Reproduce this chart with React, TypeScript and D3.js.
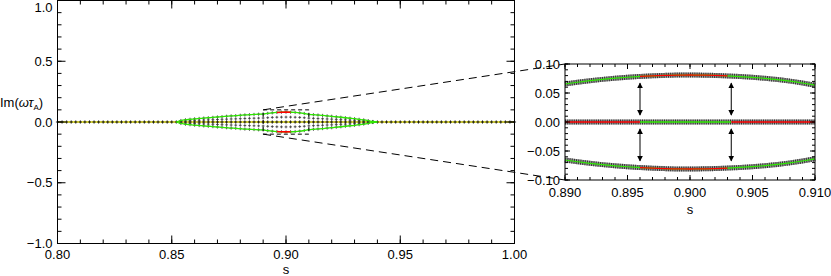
import React from 'react';
import * as d3 from 'd3';

// s grid of the computed eigenvalues (main panel), Im = 0 on the real branch
const sGrid = d3.range(0, 101).map(i => +(0.8 + i * 0.002).toFixed(3));

// unstable pair (upper branch)
const eyeS = [0.852, 0.854, 0.856, 0.858, 0.86, 0.862, 0.864, 0.866, 0.868, 0.87, 0.872, 0.874, 0.876, 0.878, 0.88, 0.882, 0.884, 0.886, 0.888, 0.89, 0.892, 0.894, 0.896, 0.898, 0.9, 0.902, 0.904, 0.906, 0.908, 0.91, 0.912, 0.914, 0.916, 0.918, 0.92, 0.922, 0.924, 0.926, 0.928, 0.93, 0.932, 0.934, 0.936, 0.938, 0.94];
const eyeIm = [0, 0.012, 0.018, 0.022, 0.026, 0.029, 0.032, 0.035, 0.038, 0.041, 0.044, 0.047, 0.05, 0.052, 0.055, 0.058, 0.06, 0.062, 0.064, 0.0655, 0.071, 0.0755, 0.0785, 0.0804, 0.081, 0.0803, 0.0784, 0.0753, 0.07, 0.0635, 0.06, 0.057, 0.054, 0.05, 0.047, 0.043, 0.039, 0.035, 0.031, 0.027, 0.022, 0.017, 0.011, 0.004, 0];

// zoomed panel, upper branch
const zoomS = [0.89, 0.891, 0.892, 0.893, 0.894, 0.895, 0.896, 0.897, 0.898, 0.899, 0.9, 0.901, 0.902, 0.903, 0.904, 0.905, 0.906, 0.907, 0.908, 0.909, 0.91];
const zoomIm = [0.0655, 0.0685, 0.0712, 0.0735, 0.0755, 0.0772, 0.0785, 0.0796, 0.0804, 0.0809, 0.081, 0.0808, 0.0803, 0.0795, 0.0784, 0.077, 0.0753, 0.0732, 0.0705, 0.0672, 0.0635];

const redStart = 0.896;
const redEnd = 0.9033;
const arrowS = [0.896, 0.9033];

const mainXTicks = [0.8, 0.85, 0.9, 0.95, 1.0];
const mainYTicks = [-1.0, -0.5, 0.0, 0.5, 1.0];
const zoomXTicks = [0.89, 0.895, 0.9, 0.905, 0.91];
const zoomYTicks = [-0.1, -0.05, 0.0, 0.05, 0.1];

const FONT = 'Liberation Sans, Arial, sans-serif';
const GREEN = '#2ee800';
const RED = '#ff0000';
const YELLOW = '#d8d400';

const fmt = (v: number, d: number) => (v < 0 ? '\u2212' : '') + Math.abs(v).toFixed(d);

function Frame({ x, y, xTicks, yTicks, xMinor, yMinor, major, minor, xd, yd, xLabY }: any) {
  const [x0, x1] = x.range();
  const [y0, y1] = y.range();
  const els: any[] = [];
  xMinor.forEach((v: number, i: number) => {
    const px = x(v);
    els.push(<line key={'xb' + i} x1={px} x2={px} y1={y0} y2={y0 - minor} />);
    els.push(<line key={'xt' + i} x1={px} x2={px} y1={y1} y2={y1 + minor} />);
  });
  yMinor.forEach((v: number, i: number) => {
    const py = y(v);
    els.push(<line key={'yl' + i} x1={x0} x2={x0 + minor} y1={py} y2={py} />);
    els.push(<line key={'yr' + i} x1={x1} x2={x1 - minor} y1={py} y2={py} />);
  });
  xTicks.forEach((v: number, i: number) => {
    const px = x(v);
    els.push(<line key={'Xb' + i} x1={px} x2={px} y1={y0} y2={y0 - major} />);
    els.push(<line key={'Xt' + i} x1={px} x2={px} y1={y1} y2={y1 + major} />);
  });
  yTicks.forEach((v: number, i: number) => {
    const py = y(v);
    els.push(<line key={'Yl' + i} x1={x0} x2={x0 + major} y1={py} y2={py} />);
    els.push(<line key={'Yr' + i} x1={x1} x2={x1 - major} y1={py} y2={py} />);
  });
  return (
    <g>
      <g stroke="#000" strokeWidth={1}>
        <rect x={x0} y={y1} width={x1 - x0} height={y0 - y1} fill="none" />
        {els}
      </g>
      <g fontFamily={FONT} fontSize={13} fill="#000">
        {xTicks.map((v: number, i: number) => (
          <text key={i} x={x(v)} y={xLabY} textAnchor="middle">{fmt(v, xd)}</text>
        ))}
        {yTicks.map((v: number, i: number) => (
          <text key={i} x={x0 - 5} y={Math.max(y(v) + 4.5, 12)} textAnchor="end">{fmt(v, yd)}</text>
        ))}
      </g>
    </g>
  );
}

const plus = (px: number, py: number, a: number) => `M${px - a},${py}H${px + a}M${px},${py - a}V${py + a}`;

export default function App() {
  const x = d3.scaleLinear().domain([0.8, 1.0]).range([57.5, 514.5]);
  const y = d3.scaleLinear().domain([-1, 1]).range([243.5, 0.5]);
  const zx = d3.scaleLinear().domain([0.89, 0.91]).range([565, 815]);
  const zy = d3.scaleLinear().domain([-0.1, 0.1]).range([180, 64]);

  const eye = eyeS.map((s, i) => ({ s, v: eyeIm[i] }));
  const eyeLow = eye.map(d => ({ s: d.s, v: -d.v }));
  const zUp = zoomS.map((s, i) => ({ s, v: zoomIm[i] }));
  const zLow = zUp.map(d => ({ s: d.s, v: -d.v }));
  const zZero = zoomS.map(s => ({ s, v: 0 }));
  const inRed = (d: any) => d.s >= redStart - 1e-9 && d.s <= redEnd + 1e-9;

  const mLine = d3.line<any>().x(d => x(d.s)).y(d => y(d.v)).curve(d3.curveMonotoneX);
  const zLine = d3.line<any>().x(d => zx(d.s)).y(d => zy(d.v)).curve(d3.curveMonotoneX);

  // markers in main panel
  let mk = '';
  sGrid.forEach(s => { mk += plus(x(s), y(0), 1.6); });
  let mkEye = '';
  eye.forEach(d => {
    if (d.v > 0) {
      mkEye += plus(x(d.s), y(d.v), 1.6);
      mkEye += plus(x(d.s), y(-d.v), 1.6);
      mkEye += plus(x(d.s), y(d.v / 2), 1.4);
      mkEye += plus(x(d.s), y(-d.v / 2), 1.4);
    }
  });

  const mainXMinor = d3.range(0, 21).map(i => 0.8 + i * 0.01);
  const mainYMinor = d3.range(0, 21).map(i => -1 + i * 0.1);
  const zXMinor = d3.range(0, 21).map(i => 0.89 + i * 0.001);
  const zYMinor = d3.range(0, 21).map(i => -0.1 + i * 0.01);

  // pieces of the zero line in the zoom
  const zZeroRedA = zZero.filter(d => d.s <= redStart + 1e-9);
  const zZeroGreen = [{ s: redStart, v: 0 }, ...zZero.filter(d => d.s > redStart && d.s < redEnd), { s: redEnd, v: 0 }];
  const zZeroRedB = [{ s: redEnd, v: 0 }, ...zZero.filter(d => d.s > redEnd)];

  const band = (data: any[]) => (
    <g>
      <path d={zLine(data) || ''} fill="none" stroke="#9a9a9a" strokeWidth={5} />
      <path d={zLine(data) || ''} fill="none" stroke="#333" strokeWidth={5} strokeDasharray="1 1.2" />
    </g>
  );

  return (
    <div style={{ position: 'fixed', left: 0, top: 0, width: 831, height: 276, background: '#fff' }}>
      <svg width={831} height={276} style={{ display: 'block' }}>
        <defs>
          <marker id="ah" viewBox="0 0 8 8" refX={7} refY={4} markerWidth={6} markerHeight={6} orient="auto-start-reverse" markerUnits="userSpaceOnUse">
            <path d="M0,0L8,4L0,8Z" fill="#000" />
          </marker>
        </defs>

        {/* main panel data */}
        <line x1={x(0.8)} x2={x(1.0)} y1={y(0)} y2={y(0)} stroke={YELLOW} strokeWidth={1.6} />
        <path d={mk} stroke="#111" strokeWidth={0.9} fill="none" />
        <path d={mkEye} stroke="#333" strokeWidth={0.8} fill="none" />
        <path d={mLine(eye) || ''} fill="none" stroke={GREEN} strokeWidth={1.3} />
        <path d={mLine(eyeLow) || ''} fill="none" stroke={GREEN} strokeWidth={1.3} />
        <path d={mLine(eye.filter(inRed)) || ''} fill="none" stroke={RED} strokeWidth={1.6} />
        <path d={mLine(eyeLow.filter(inRed)) || ''} fill="none" stroke={RED} strokeWidth={1.6} />

        <Frame x={x} y={y} xTicks={mainXTicks} yTicks={mainYTicks} xMinor={mainXMinor} yMinor={mainYMinor}
          major={8} minor={4} xd={2} yd={1} xLabY={259} />

        {/* zoom box in main panel */}
        <rect x={x(0.89)} y={y(0.1)} width={x(0.91) - x(0.89)} height={y(-0.1) - y(0.1)}
          fill="none" stroke="#000" strokeWidth={1} strokeDasharray="4 3" />

        {/* zoom panel data */}
        {band(zUp)}
        {band(zLow)}
        {band(zZero)}
        <path d={zLine(zUp) || ''} fill="none" stroke={GREEN} strokeWidth={1.2} />
        <path d={zLine(zLow) || ''} fill="none" stroke={GREEN} strokeWidth={1.2} />
        <path d={zLine(zUp.filter(inRed)) || ''} fill="none" stroke={RED} strokeWidth={1.3} />
        <path d={zLine(zLow.filter(inRed)) || ''} fill="none" stroke={RED} strokeWidth={1.3} />
        <path d={zLine(zZeroRedA) || ''} fill="none" stroke={RED} strokeWidth={1.3} />
        <path d={zLine(zZeroGreen) || ''} fill="none" stroke={GREEN} strokeWidth={1.3} />
        <path d={zLine(zZeroRedB) || ''} fill="none" stroke={RED} strokeWidth={1.3} />

        {arrowS.map((s, i) => (
          <g key={i} stroke="#000" strokeWidth={1}>
            <line x1={zx(s)} x2={zx(s)} y1={zy(0.067)} y2={zy(0.012)} markerStart="url(#ah)" markerEnd="url(#ah)" />
            <line x1={zx(s)} x2={zx(s)} y1={zy(-0.012)} y2={zy(-0.067)} markerStart="url(#ah)" markerEnd="url(#ah)" />
          </g>
        ))}

        <Frame x={zx} y={zy} xTicks={zoomXTicks} yTicks={zoomYTicks} xMinor={zXMinor} yMinor={zYMinor}
          major={5} minor={3} xd={3} yd={2} xLabY={197} />

        {/* connectors */}
        <line x1={x(0.89)} y1={y(0.1)} x2={zx(0.89)} y2={zy(0.1)} stroke="#000" strokeWidth={1} strokeDasharray="8 5" />
        <line x1={x(0.89)} y1={y(-0.1)} x2={zx(0.89)} y2={zy(-0.1)} stroke="#000" strokeWidth={1} strokeDasharray="8 5" />

        {/* axis titles */}
        <g fontFamily={FONT} fontSize={13} fill="#000">
          <text x={286} y={273.5} textAnchor="middle">s</text>
          <text x={690} y={214} textAnchor="middle">s</text>
          <text x={0} y={107}>Im(<tspan fontStyle="italic">ωτ</tspan><tspan fontSize={8} dy={3}>A</tspan><tspan dy={-3}>)</tspan></text>
        </g>
      </svg>
    </div>
  );
}
